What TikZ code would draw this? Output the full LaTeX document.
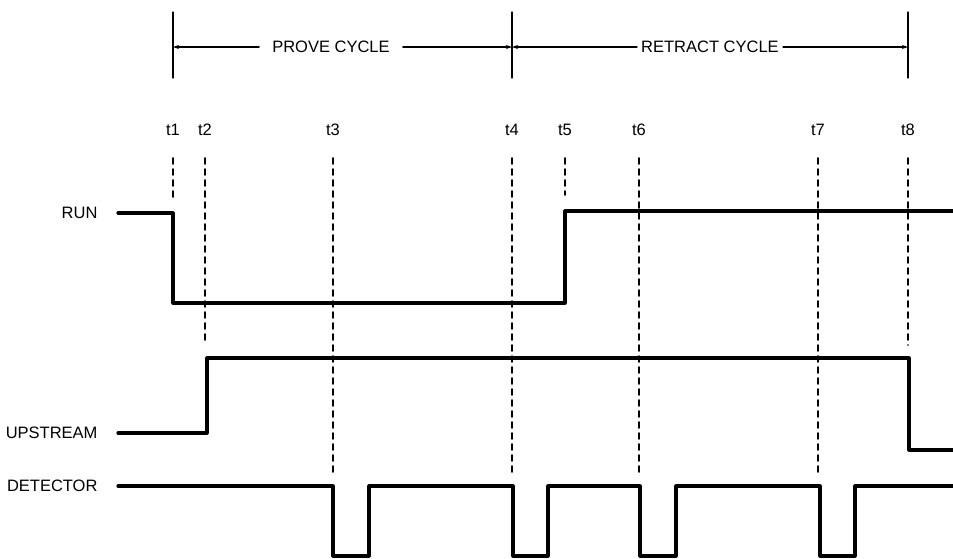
\documentclass[tikz,border=0pt]{standalone}
\usepackage{fontspec}
\setmainfont{Liberation Sans}
\usetikzlibrary{arrows.meta}
\tikzset{
  signal/.style={line width=3.2pt},
  marker/.style={line width=1.6pt, dash pattern=on 6pt off 5pt},
  tick/.style={line width=1.2pt},
}
\begin{document}
\begin{tikzpicture}[x=1pt, y=-1pt, line join=round, line cap=round, >={Stealth[length=6pt,width=4pt]}, font=\fontsize{16.5}{19}\selectfont]
  \useasboundingbox (0,0) rectangle (953,558);
  % cycle ticks and dimension lines
  \draw[tick] (173,12)--(173,78);
  \draw[tick] (512,12)--(512,78);
  \draw[tick] (908,12)--(908,78);
  \node[inner xsep=13pt] (prove) at (331,47) {PROVE CYCLE};
  \node[inner xsep=4pt] (retract) at (710,47) {RETRACT CYCLE};
  \draw[tick,->] (prove.west)--(173,47);
  \draw[tick,->] (prove.east)--(512,47);
  \draw[tick,->] (retract.west)--(512,47);
  \draw[tick,->] (retract.east)--(908,47);
  % time marks
  \foreach \n/\x/\e in {1/173/200,2/205/342,3/333/472,4/512/472,5/565/195,6/639/472,7/818/472,8/908/345}{
    \node (t\n) at (\x,130) {t\n};
    \draw[marker] (\x,158)--(\x,\e);
  }
  % signal names
  \node[anchor=east] (run) at (101,213) {RUN};
  \node[anchor=east] (upstream) at (101,433) {UPSTREAM};
  \node[anchor=east] (detector) at (101,486) {DETECTOR};
  % waveforms
  \draw[signal] (118,213)--(173,213)--(173,303)--(565,303)--(565,211)--(953,211);
  \draw[signal] (118,433)--(207,433)--(207,358)--(909,358)--(909,450)--(953,450);
  \draw[signal] (118,486)--(333,486)--(333,556)--(369,556)--(369,486)--(513,486)--(513,556)--(548,556)--(548,486)
    --(640,486)--(640,556)--(676,556)--(676,486)--(820,486)--(820,556)--(855,556)--(855,486)--(953,486);
\end{tikzpicture}
\end{document}
